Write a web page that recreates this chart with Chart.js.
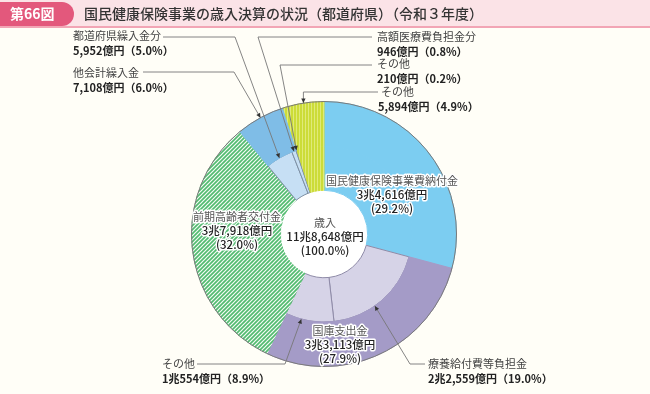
<!DOCTYPE html>
<html>
<head>
<meta charset="utf-8">
<script src="https://cdn.jsdelivr.net/npm/chart.js@4/dist/chart.umd.min.js"></script>
<style>
  html, body { margin: 0; padding: 0; background: #fffef7; }
  #c { display: block; }
</style>
</head>
<body>
<canvas id="c" width="650" height="394"></canvas>
<script>
var FONT = '"Noto Sans CJK JP", "Noto Sans", sans-serif';

// outer ring (大項目)
var outerLabels = ['国民健康保険事業費納付金', '国庫支出金', '前期高齢者交付金', '他会計繰入金', 'その他'];
var outerValues = [34616, 33113, 37918, 7108, 5894];
var outerPercents = [29.2, 27.9, 32.0, 6.0, 4.9];

// inner ring (内訳)
var innerLabels = ['国民健康保険事業費納付金', '療養給付費等負担金', 'その他', '前期高齢者交付金',
  '都道府県繰入金分', '高額医療費負担金分', 'その他', 'その他'];
var innerValues = [34616, 22559, 10554, 37918, 5952, 946, 210, 5894];
var innerPercents = [29.2, 19.0, 8.9, 32.0, 5.0, 0.8, 0.2, 4.9];

var totalLabel = '歳入';
var totalValue = 118648;
var totalPercent = 100.0;

function fmtOku(v) {
  var cho = Math.floor(v / 10000);
  var rest = v % 10000;
  var s = rest.toLocaleString('en-US');
  return (cho > 0 ? cho + '兆' : '') + s + '億円';
}

function makeHatch() {
  var c = document.createElement('canvas');
  c.width = 4; c.height = 4;
  var g = c.getContext('2d');
  g.fillStyle = '#52bb70';
  g.fillRect(0, 0, 4, 4);
  g.strokeStyle = '#f4fbf5';
  g.lineWidth = 1.2;
  g.beginPath();
  g.moveTo(-1, 5); g.lineTo(5, -1);
  g.moveTo(-1, 1); g.lineTo(1, -1);
  g.moveTo(3, 5); g.lineTo(5, 3);
  g.stroke();
  return g.createPattern(c, 'repeat');
}

function makeStripe() {
  var c = document.createElement('canvas');
  c.width = 3; c.height = 1;
  var g = c.getContext('2d');
  g.fillStyle = '#ccdc38';
  g.fillRect(0, 0, 3, 1);
  g.fillStyle = '#e0ea78';
  g.fillRect(2, 0, 1, 1);
  return g.createPattern(c, 'repeat');
}

var green = makeHatch();
var yellow = makeStripe();
var blue = '#7ccdf1';

var outerColors = [blue, '#a49bc7', green, '#7fbde7', yellow];
var innerColors = [blue, '#d6d3e7', '#d6d3e7', green, '#c6dff4', '#c6dff4', '#c6dff4', yellow];
var innerBorders = [blue, '#8f8ba8', '#8f8ba8', green, '#7d8fa3', '#7d8fa3', '#7d8fa3', yellow];

// labels outside the chart: text position, leader elbow, target arc
var callouts = [
  { ds: 1, idx: 4, t: 0.5, at: 'outer', x: 73, y: 36, path: [[163, 37], [235, 37]] },
  { ds: 0, idx: 3, t: 0.5, at: 'outer', x: 73, y: 73, path: [[143, 72], [234, 72]] },
  { ds: 1, idx: 5, t: 0.5, at: 'outer', x: 377, y: 37, path: [[372, 37], [258, 37]] },
  { ds: 1, idx: 6, t: 0.5, at: 'outer', x: 377, y: 64, path: [[372, 65], [280, 65]] },
  { ds: 0, idx: 4, t: 0.5, at: 'outer', x: 381, y: 92, path: [[378, 92], ['tx', 92]] },
  { ds: 1, idx: 1, t: 0.58, at: 'outer', x: 428, y: 364, path: [[425, 364], [410, 364]] },
  { ds: 1, idx: 2, t: 0.67, at: 'outer', x: 162, y: 364, path: [[197, 364], [285, 364]] }
];

function arcPoint(arc, t, which) {
  var a = arc.startAngle + (arc.endAngle - arc.startAngle) * t;
  var r = which === 'outer' ? arc.outerRadius : arc.innerRadius;
  return { x: arc.x + Math.cos(a) * r, y: arc.y + Math.sin(a) * r };
}

function haloText(ctx, s, x, y, color) {
  ctx.lineJoin = 'round';
  ctx.strokeStyle = '#ffffff';
  ctx.lineWidth = 3;
  ctx.strokeText(s, x, y);
  ctx.fillStyle = color;
  ctx.fillText(s, x, y);
}

var decor = {
  id: 'decor',
  beforeDraw: function(chart) {
    var ctx = chart.ctx;
    ctx.save();
    ctx.fillStyle = '#fffef7';
    ctx.fillRect(0, 0, chart.width, chart.height);
    // header
    ctx.fillStyle = '#fbe3e7';
    ctx.fillRect(0, 0, chart.width, 26);
    ctx.fillStyle = '#f2a5b5';
    ctx.fillRect(0, 26, chart.width, 2);
    ctx.fillStyle = '#e3587c';
    ctx.beginPath();
    ctx.moveTo(0, 2);
    ctx.lineTo(62, 2);
    ctx.arc(62, 14, 12, -Math.PI / 2, Math.PI / 2);
    ctx.lineTo(0, 26);
    ctx.closePath();
    ctx.fill();
    ctx.textBaseline = 'middle';
    ctx.fillStyle = '#ffffff';
    ctx.font = 'bold 14px ' + FONT;
    ctx.fillText('第66図', 10, 14);
    ctx.fillStyle = '#333333';
    ctx.font = '500 14px ' + FONT;
    ctx.fillText('国民健康保険事業の歳入決算の状況（都道府県）（令和３年度）', 84, 14);
    ctx.restore();
  },
  beforeDatasetsDraw: function(chart) {
    var arc = chart.getDatasetMeta(1).data[0];
    var ctx = chart.ctx;
    ctx.save();
    ctx.fillStyle = '#ffffff';
    ctx.beginPath();
    ctx.arc(arc.x, arc.y, arc.innerRadius, 0, Math.PI * 2);
    ctx.fill();
    ctx.restore();
  },
  afterDatasetsDraw: function(chart) {
    var ctx = chart.ctx;
    var o = chart.getDatasetMeta(0).data[0];
    ctx.save();
    ctx.strokeStyle = '#7a7a7a';
    ctx.lineWidth = 1;
    ctx.beginPath();
    ctx.arc(o.x, o.y, o.outerRadius, 0, Math.PI * 2);
    ctx.stroke();

    // leader lines
    ctx.strokeStyle = '#777777';
    ctx.fillStyle = '#333333';
    ctx.lineWidth = 0.9;
    callouts.forEach(function(c) {
      var arc = chart.getDatasetMeta(c.ds).data[c.idx];
      var p = arcPoint(arc, c.t, c.at);
      var pts = c.path.map(function(q) { return [q[0] === 'tx' ? p.x : q[0], q[1]]; });
      pts.push([p.x, p.y]);
      ctx.beginPath();
      ctx.moveTo(pts[0][0], pts[0][1]);
      for (var i = 1; i < pts.length; i++) ctx.lineTo(pts[i][0], pts[i][1]);
      ctx.stroke();
      var a = pts[pts.length - 2], b = pts[pts.length - 1];
      var ang = Math.atan2(b[1] - a[1], b[0] - a[0]);
      ctx.beginPath();
      ctx.moveTo(b[0], b[1]);
      ctx.lineTo(b[0] - 5 * Math.cos(ang - 0.45), b[1] - 5 * Math.sin(ang - 0.45));
      ctx.lineTo(b[0] - 5 * Math.cos(ang + 0.45), b[1] - 5 * Math.sin(ang + 0.45));
      ctx.closePath();
      ctx.fill();
    });

    // outside labels
    ctx.textBaseline = 'middle';
    ctx.textAlign = 'left';
    callouts.forEach(function(c) {
      var lab = c.ds === 0 ? outerLabels[c.idx] : innerLabels[c.idx];
      var val = c.ds === 0 ? outerValues[c.idx] : innerValues[c.idx];
      var pct = c.ds === 0 ? outerPercents[c.idx] : innerPercents[c.idx];
      ctx.fillStyle = '#444444';
      ctx.font = '11px ' + FONT;
      ctx.fillText(lab, c.x, c.y);
      ctx.fillStyle = '#222222';
      ctx.font = 'bold 11px ' + FONT;
      ctx.fillText(fmtOku(val) + '（' + pct.toFixed(1) + '%）', c.x - (c.x === 381 ? 3 : 0), c.y + 15);
    });

    // labels inside the chart
    ctx.textAlign = 'center';
    var inside = [
      [outerLabels[0], outerValues[0], outerPercents[0], 392, 181],
      [outerLabels[2], outerValues[2], outerPercents[2], 237, 217],
      [outerLabels[1], outerValues[1], outerPercents[1], 340, 331],
      [totalLabel, totalValue, totalPercent, 325, 223]
    ];
    inside.forEach(function(r) {
      ctx.font = '11px ' + FONT;
      haloText(ctx, r[0], r[3], r[4], '#555555');
      ctx.font = '500 11.5px ' + FONT;
      haloText(ctx, fmtOku(r[1]), r[3], r[4] + 14, '#222222');
      haloText(ctx, '(' + r[2].toFixed(1) + '%)', r[3], r[4] + 28, '#222222');
    });
    ctx.restore();
  }
};

new Chart(document.getElementById('c').getContext('2d'), {
  type: 'doughnut',
  data: {
    labels: innerLabels,
    datasets: [{
      label: '大項目',
      data: outerValues,
      backgroundColor: outerColors,
      borderColor: outerColors,
      borderWidth: 1
    }, {
      label: '内訳',
      data: innerValues,
      backgroundColor: innerColors,
      borderColor: innerBorders,
      borderWidth: 1
    }]
  },
  options: {
    responsive: false,
    animation: false,
    cutout: '33%',
    layout: { padding: { top: 101, bottom: 27, left: 58, right: 60 } },
    plugins: {
      legend: { display: false },
      tooltip: { enabled: false }
    }
  },
  plugins: [decor]
});
</script>
</body>
</html>
